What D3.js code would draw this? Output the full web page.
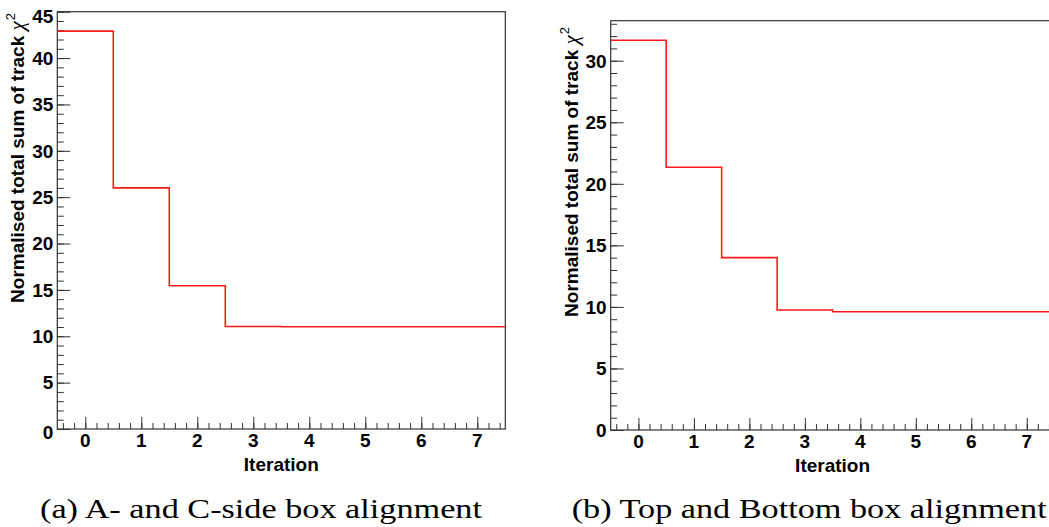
<!DOCTYPE html>
<html>
<head>
<meta charset="utf-8">
<script src="https://cdn.jsdelivr.net/npm/d3@7/dist/d3.min.js"></script>
<style>
  body { margin: 0; background: #fff; }
  svg { display: block; }
  .tick-label { font-family: "Liberation Sans", Arial, sans-serif; font-weight: bold; font-size: 19px; fill: #000; }
  .axis-title { font-family: "Liberation Sans", Arial, sans-serif; font-weight: bold; font-size: 19px; fill: #000; }
  .caption { font-family: "Liberation Serif", "Times New Roman", serif; font-size: 28px; fill: #000; }
</style>
</head>
<body>
<svg id="fig" width="1049" height="527"></svg>
<script>
// Alignment iterations (bin centres) and the normalised total track chi^2 per iteration
const iterations = [0, 1, 2, 3, 4, 5, 6, 7];
const chi2SideAC = [42.9, 26.0, 15.45, 11.05, 11.02, 11.03, 11.03, 11.03];
const chi2TopBottom = [31.66, 21.34, 14.0, 9.75, 9.61, 9.61, 9.61, 9.61];

// Axis ticks
const xTickValues = [0, 1, 2, 3, 4, 5, 6, 7];
const yTicksSideAC = [0, 5, 10, 15, 20, 25, 30, 35, 40, 45];
const yTicksTopBottom = [0, 5, 10, 15, 20, 25, 30];

const xTitle = "Iteration";
const yTitle = "Normalised total sum of track ";
const captions = ["(a) A- and C-side box alignment", "(b) Top and Bottom box alignment"];

const panels = [
  {
    values: chi2SideAC, yTicks: yTicksSideAC, yMax: 45, caption: captions[0],
    frame: { left: 57.3, right: 505.3, top: 11.7, bottom: 429 },
    yTitleEnd: 13, captionX: 40, captionLen: 442
  },
  {
    values: chi2TopBottom, yTicks: yTicksTopBottom, yMax: 33.25, caption: captions[1],
    frame: { left: 610.7, right: 1054.5, top: 20.7, bottom: 430 },
    yTitleEnd: 27, captionX: 571.7, captionLen: 475
  }
];

const svg = d3.select("#fig");
const axisColor = "#333";

panels.forEach(p => {
  const f = p.frame;
  const x = d3.scaleLinear().domain([-0.5, 7.5]).range([f.left, f.right]);
  const y = d3.scaleLinear().domain([0, p.yMax]).range([f.bottom, f.top]);
  const g = svg.append("g");

  // Frame
  g.append("rect")
    .attr("x", f.left).attr("y", f.top)
    .attr("width", f.right - f.left).attr("height", f.bottom - f.top)
    .attr("fill", "none").attr("stroke", axisColor).attr("stroke-width", 1.2);

  // Y axis: major ticks every 5, minor ticks every 1, pointing into the frame
  const yAxis = d3.axisRight(y).tickValues(p.yTicks).tickSize(13).tickFormat("");
  const yMinor = d3.axisRight(y).tickValues(d3.range(0, Math.floor(p.yMax) + 1, 1)).tickSize(6.5).tickFormat("");
  [yAxis, yMinor].forEach(ax => {
    const a = g.append("g").attr("transform", `translate(${f.left},0)`).call(ax);
    a.select(".domain").remove();
    a.selectAll("line").attr("stroke", axisColor).attr("stroke-width", 1);
  });

  // X axis: major ticks at integers, minor every 0.2, pointing up into the frame
  const xAxis = d3.axisTop(x).tickValues(xTickValues).tickSize(12).tickFormat("");
  const xMinor = d3.axisTop(x).tickValues(d3.range(-2, 38).map(i => i / 5)).tickSize(6).tickFormat("");
  [xAxis, xMinor].forEach(ax => {
    const a = g.append("g").attr("transform", `translate(0,${f.bottom})`).call(ax);
    a.select(".domain").remove();
    a.selectAll("line").attr("stroke", axisColor).attr("stroke-width", 1);
  });

  // Tick labels
  g.selectAll(".ylab").data(p.yTicks).enter().append("text")
    .attr("class", "tick-label")
    .attr("x", f.left - 4)
    .attr("y", d => y(d))
    .attr("dy", d => (d === p.yMax ? "0.62em" : d === 0 && p.yMax === 45 ? "0.55em" : "0.36em"))
    .attr("text-anchor", "end")
    .text(d => d);

  g.selectAll(".xlab").data(xTickValues).enter().append("text")
    .attr("class", "tick-label")
    .attr("x", d => x(d))
    .attr("y", f.bottom + 18)
    .attr("text-anchor", "middle")
    .text(d => d);

  // Axis titles
  g.append("text")
    .attr("class", "axis-title")
    .attr("x", (f.left + f.right) / 2)
    .attr("y", f.bottom + 42)
    .attr("text-anchor", "middle")
    .text(xTitle);

  const yt = g.append("text")
    .attr("class", "axis-title")
    .attr("transform", `translate(${f.left - 33},${p.yTitleEnd}) rotate(-90)`)
    .attr("text-anchor", "end");
  yt.append("tspan").text(yTitle);
  yt.append("tspan")
    .attr("font-family", "'Liberation Serif', serif").attr("font-style", "italic")
    .attr("font-weight", "normal").attr("font-size", 21)
    .text("χ");
  yt.append("tspan")
    .attr("font-weight", "normal").attr("font-size", 13)
    .attr("dy", -9).attr("dx", 1)
    .text("2");

  // Step histogram of chi^2 per iteration
  const pts = iterations.map((it, i) => [it - 0.5, p.values[i]]);
  pts.push([iterations[iterations.length - 1] + 0.5, p.values[p.values.length - 1]]);
  const line = d3.line().x(d => x(d[0])).y(d => y(d[1])).curve(d3.curveStepAfter);
  g.append("path")
    .attr("d", line(pts))
    .attr("fill", "none")
    .attr("stroke", "#ff1a1a")
    .attr("stroke-width", 1.6);

  // Sub-figure caption
  svg.append("text")
    .attr("class", "caption")
    .attr("x", p.captionX)
    .attr("y", 518)
    .attr("textLength", p.captionLen)
    .attr("lengthAdjust", "spacingAndGlyphs")
    .text(p.caption);
});
</script>
</body>
</html>
